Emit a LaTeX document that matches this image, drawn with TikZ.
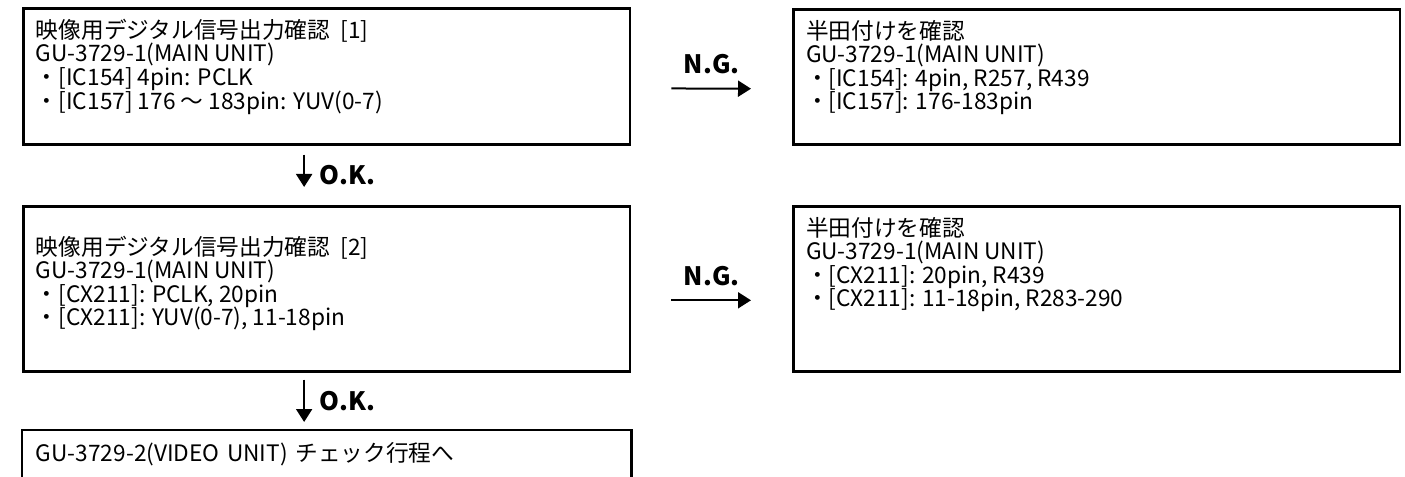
\documentclass[tikz,border=0pt]{standalone}
\usepackage{fontspec}
\setmainfont{Noto Sans CJK JP}
\usetikzlibrary{arrows.meta}

\newcommand{\cell}[3][t]{\begin{minipage}[c][#2][#1]{436pt}\lineskiplimit=-10pt\relax #3\end{minipage}}

\tikzset{
  box/.style={draw, line width=2pt, anchor=north west, inner xsep=9.5pt, inner ysep=8pt},
  flow/.style={line width=1.5pt, -{Triangle[length=9.75pt, width=12pt]}},
  tag/.style={font=\fontsize{19pt}{19pt}\selectfont\bfseries, inner sep=0pt},
}

\begin{document}
\begin{tikzpicture}[x=0.75pt, y=-0.75pt, font=\fontsize{17pt}{17.7pt}\selectfont]
        \useasboundingbox (0,0) rectangle (1405,477);

        % left column
        \node[box] (b1) at (22,7) {\cell{86pt}{映像用デジタル信号出力確認\hspace{.45em}[1]\\
          GU-3729-1(MAIN UNIT)\\
          ・[IC154] 4pin: PCLK\\
          ・[IC157] 176 ～ 183pin: YUV(0-7)}};
        \node[box] (b2) at (22,205) {\cell[c]{107.75pt}{映像用デジタル信号出力確認\hspace{.45em}[2]\\
          GU-3729-1(MAIN UNIT)\\
          ・[CX211]: PCLK, 20pin\\
          ・[CX211]: YUV(0-7), 11-18pin\vspace{8pt}}};
        \node[box, draw=none, text width=436pt, align=left] (b3) at (22,430)
          {GU-3729-2(VIDEO UNIT) チェック行程へ};
        \draw[line width=2pt] (b3.south west) -- (b3.north west) -- (b3.north east) -- (b3.south east);

        % right column
        \node[box] (r1) at (792,8) {\cell{85.25pt}{半田付けを確認\\
          GU-3729-1(MAIN UNIT)\\
          ・[IC154]: 4pin, R257, R439\\
          ・[IC157]: 176-183pin}};
        \node[box] (r2) at (792,205) {\cell{107.75pt}{半田付けを確認\\
          GU-3729-1(MAIN UNIT)\\
          ・[CX211]: 20pin, R439\\
          ・[CX211]: 11-18pin, R283-290}};

        \foreach \a/\b/\dy in {b1/r1/-9pt, b2/r2/-8.6pt} {
          \draw[flow, shorten <=30pt, shorten >=30.75pt] ([yshift=\dy]\a.east)
            -- node[tag, above=10pt] {N.G.} ([yshift=\dy]\b.west);
        }

        \foreach \a/\b/\s/\e in {b1/b2/6.75pt/13.5pt, b2/b3/5.25pt/6pt} {
          \draw[flow, shorten <=\s, shorten >=\e] ([xshift=-16.9pt]\a.south)
            -- node[tag, right=11pt] {O.K.} ([xshift=-16.9pt]\b.north);
        }
      \end{tikzpicture}
\end{document}
